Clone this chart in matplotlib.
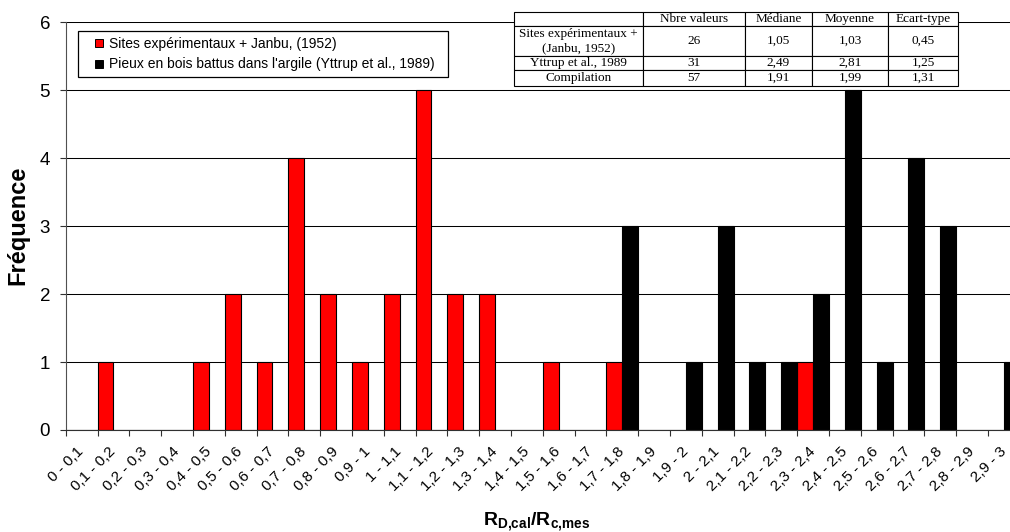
import numpy as np
import matplotlib
matplotlib.use('Agg')
from matplotlib import pyplot as plt
from matplotlib.lines import Line2D

plt.rcParams['font.family'] = ['Liberation Sans', 'DejaVu Sans']
plt.rcParams['mathtext.fontset'] = 'custom'
plt.rcParams['mathtext.rm'] = 'Liberation Sans'
plt.rcParams['mathtext.bf'] = 'Liberation Sans:bold'

# classes de R_D,cal / R_c,mes
classes = ['0 - 0,1', '0,1 - 0,2', '0,2 - 0,3', '0,3 - 0,4', '0,4 - 0,5',
           '0,5 - 0,6', '0,6 - 0,7', '0,7 - 0,8', '0,8 - 0,9', '0,9 - 1',
           '1 - 1,1', '1,1 - 1,2', '1,2 - 1,3', '1,3 - 1,4', '1,4 - 1,5',
           '1,5 - 1,6', '1,6 - 1,7', '1,7 - 1,8', '1,8 - 1,9', '1,9 - 2',
           '2 - 2,1', '2,1 - 2,2', '2,2 - 2,3', '2,3 - 2,4', '2,4 - 2,5',
           '2,5 - 2,6', '2,6 - 2,7', '2,7 - 2,8', '2,8 - 2,9', '2,9 - 3']
# fréquences
sites_janbu = [0, 1, 0, 0, 1, 2, 1, 4, 2, 1,
               2, 5, 2, 2, 0, 1, 0, 1, 0, 0,
               0, 0, 0, 1, 0, 0, 0, 0, 0, 0]
yttrup = [0, 0, 0, 0, 0, 0, 0, 0, 0, 0,
          0, 0, 0, 0, 0, 0, 0, 3, 0, 1,
          3, 1, 1, 2, 5, 1, 4, 3, 0, 1]

# tableau récapitulatif
tab_cols = ['', 'Nbre valeurs', 'Médiane', 'Moyenne', 'Ecart-type']
tab_rows = ['Sites expérimentaux +\n(Janbu, 1952)', 'Yttrup et al., 1989', 'Compilation']
nbre = ['26', '31', '57']
mediane = ['1,05', '2,49', '1,91']
moyenne = ['1,03', '2,81', '1,99']
ecart = ['0,45', '1,25', '1,31']

fig = plt.figure(figsize=(10.1, 5.32), dpi=100)
# l'axe dépasse à droite, comme sur l'original (coupé)
ax = fig.add_axes([0.06505, 0.19173, 0.9446, 0.7669])

x = np.arange(len(classes))
ax.bar(x - 0.5, sites_janbu, width=0.5, align='edge', color='#FF0000',
       edgecolor='black', linewidth=0.8, zorder=2)
ax.bar(x, yttrup, width=0.5, align='edge', color='black',
       edgecolor='black', linewidth=0.8, zorder=2)

ax.set_xlim(-0.5, len(classes) - 0.5)
ax.set_ylim(0, 6)
ax.set_yticks(np.arange(0, 7))
ax.yaxis.grid(True, color='black', linewidth=0.75)
ax.set_axisbelow(True)

for s in ['top', 'right']:
    ax.spines[s].set_visible(False)
ax.spines['left'].set_color('#505050')
ax.spines['bottom'].set_color('#303030')

# graduations aux limites des classes, étiquettes au centre
ax.set_xticks(np.arange(len(classes) + 1) - 0.5)
ax.set_xticklabels([])
ax.set_xticks(x, minor=True)
ax.set_xticklabels(classes, minor=True, rotation=45, ha='right', va='center',
                   rotation_mode='anchor', fontsize=11)
ax.tick_params(axis='x', which='major', length=4.3, color='#303030')
ax.tick_params(axis='x', which='minor', length=0, pad=14)
ax.tick_params(axis='y', length=4.3, pad=7, labelsize=13.5, color='#303030')

ax.set_ylabel('Fréquence', fontsize=17, fontweight='bold')
ax.yaxis.set_label_coords(-0.0378, 0.5025)
ax.set_xlabel(r'$\mathbf{R_{D{,}cal}/R_{c{,}mes}}$', fontsize=14)
ax.xaxis.set_label_coords(0.494, -0.2353)
ax.xaxis.label.set_va('baseline')

handles = [Line2D([], [], ls='none', marker='s', markersize=5.5,
                  markerfacecolor='#FF0000', markeredgecolor='black', markeredgewidth=0.7),
           Line2D([], [], ls='none', marker='s', markersize=5.5,
                  markerfacecolor='black', markeredgecolor='black', markeredgewidth=0.7)]
leg = ax.legend(handles, ['Sites expérimentaux + Janbu, (1952)',
                          "Pieux en bois battus dans l'argile (Yttrup et al., 1989)"],
                loc='upper left', bbox_to_anchor=(0.0129, 0.5, 0.388, 0.478),
                mode='expand', borderaxespad=0, fontsize=10, fancybox=False,
                framealpha=1, edgecolor='black', handlelength=2.2,
                handletextpad=-0.35, labelspacing=0.5)
leg.get_frame().set_linewidth(0.9)

cell_text = [tab_cols] + [[tab_rows[i], nbre[i], mediane[i], moyenne[i], ecart[i]]
                          for i in range(len(tab_rows))]
col_w = [129.3, 101.7, 66.7, 76.6, 70.0]
tab = ax.table(cellText=cell_text, cellLoc='center', colWidths=col_w,
               bbox=[0.4699, 0.84314, 0.4657, 0.18137])
tab.auto_set_font_size(False)
tab.set_fontsize(9.5)
row_h = [14, 30, 14, 16]
for (r, c), cell in tab.get_celld().items():
    cell.set_height(row_h[r])
    cell.set_linewidth(0.8)
    cell.get_text().set_fontfamily('Liberation Serif')
tab.set_zorder(5)

plt.savefig('out.png', dpi=100)
